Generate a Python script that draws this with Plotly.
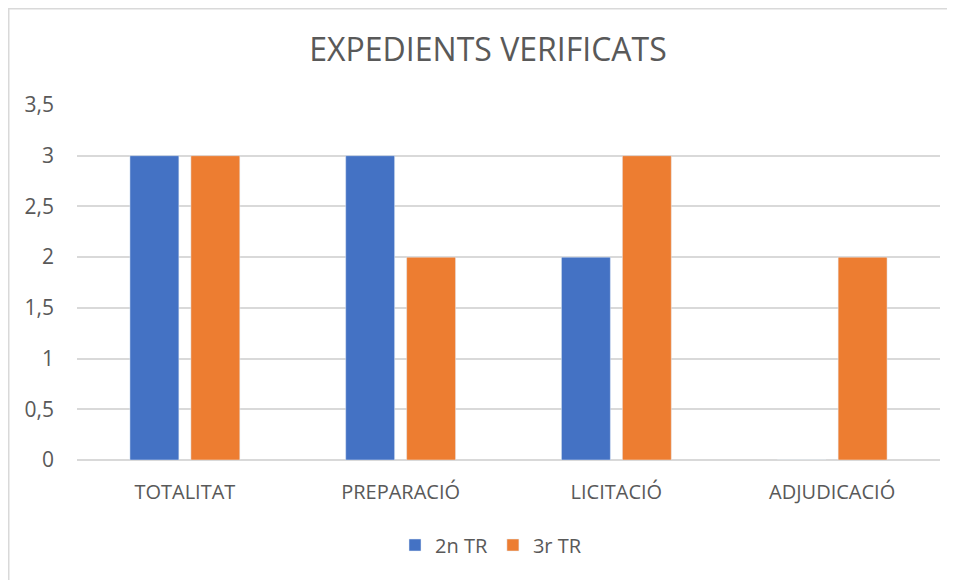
import plotly.graph_objects as go

categories = ["TOTALITAT", "PREPARACIÓ", "LICITACIÓ", "ADJUDICACIÓ"]
serie_2n = [3, 3, 2, 0]
serie_3r = [3, 2, 3, 2]
series_names = ["2n TR", "3r TR"]
y_ticks = [0, 0.5, 1, 1.5, 2, 2.5, 3, 3.5]

# page has an 8px body margin; work in figure coordinates
W, H = 947, 572
L, R, T, B = 69, 15, 97, 120
font_family = "Open Sans, Liberation Sans, sans-serif"
gray = "#595959"

fig = go.Figure()
fig.add_trace(go.Bar(x=categories, y=serie_2n, name=series_names[0], marker_color="#4472C4"))
fig.add_trace(go.Bar(x=categories, y=serie_3r, name=series_names[1], marker_color="#ED7D31"))

pw = W - L - R
ph = H - T - B

def px_x(x):
    return (x - L) / pw

def px_y(y):
    return (H - B - y) / ph

fig.update_layout(
    width=W, height=H,
    margin=dict(l=L, r=R, t=T, b=B),
    paper_bgcolor="white", plot_bgcolor="white",
    separators=",.",
    barmode="group", bargap=0.435, bargroupgap=0.197,
    title=dict(text="EXPEDIENTS VERIFICATS", x=px_x(480), xref="paper", xanchor="center",
               y=1 - 42 / H, yanchor="middle",
               font=dict(family=font_family, size=32, color=gray)),
    font=dict(family=font_family, size=20, color=gray),
    legend=dict(orientation="h", x=px_x(483), xanchor="center",
                y=px_y(537), yanchor="middle", font=dict(size=20, color=gray)),
    showlegend=True,
    shapes=[
        dict(type="line", xref="paper", yref="paper", x0=px_x(0), x1=px_x(W + 5),
             y0=px_y(0.75), y1=px_y(0.75), line=dict(color="#D9D9D9", width=1.5)),
        dict(type="line", xref="paper", yref="paper", x0=px_x(0.75), x1=px_x(0.75),
             y0=px_y(0), y1=px_y(H + 5), line=dict(color="#D9D9D9", width=1.5)),
    ],
)
fig.update_xaxes(showgrid=False, showline=False, ticks="", ticklabelstandoff=18,
                 tickfont=dict(size=20, color=gray))
fig.update_yaxes(range=[0, 3.5], tickvals=y_ticks, showgrid=True, gridcolor="#D9D9D9",
                 gridwidth=1.5, zeroline=True, zerolinecolor="#D9D9D9", zerolinewidth=1.5,
                 showline=False, ticks="", ticklabelstandoff=22,
                 tickfont=dict(size=21, color=gray))

fig.write_html("out.html")
